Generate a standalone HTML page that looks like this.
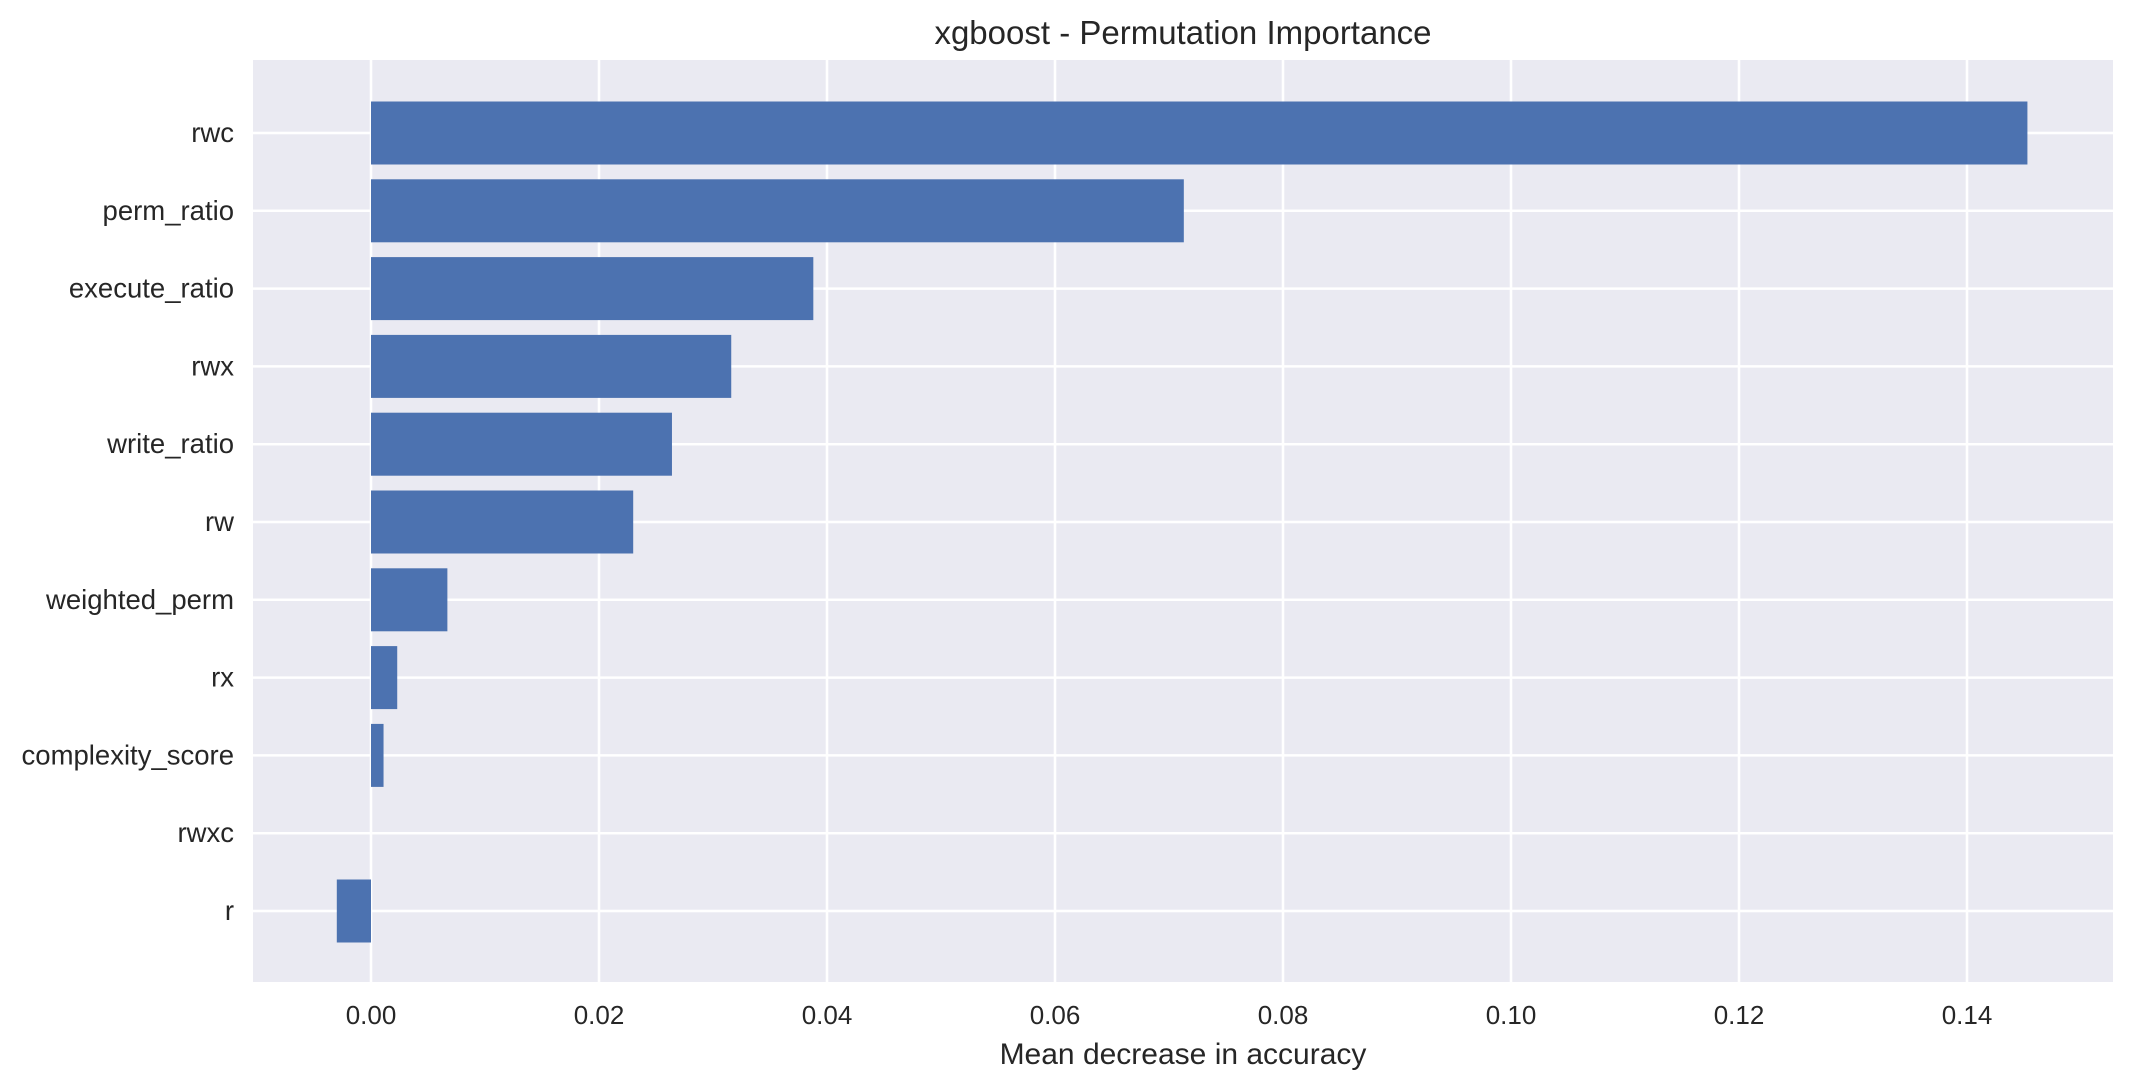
<!DOCTYPE html>
<html><head><meta charset="utf-8"><style>
html,body{margin:0;padding:0;background:#fff;}
svg{display:block;font-family:"Liberation Sans",Arial,sans-serif;}
</style></head><body>
<svg id="chart" width="2133" height="1091" viewBox="0 0 2133 1091" xmlns="http://www.w3.org/2000/svg">
<rect x="253" y="60" width="1860" height="922" fill="#eaeaf2"/>
<g id="grid"></g>
<g id="bars"></g>
<g id="yticks"></g>
<g id="xticks"></g>
<text x="1183" y="44" font-size="33" text-anchor="middle" fill="#262626">xgboost - Permutation Importance</text>
<text x="1183" y="1064" font-size="30" text-anchor="middle" fill="#262626">Mean decrease in accuracy</text>
</svg>
<script>
const features = ["rwc","perm_ratio","execute_ratio","rwx","write_ratio","rw","weighted_perm","rx","complexity_score","rwxc","r"];
const importances = [0.1453,0.0713,0.0388,0.0316,0.0264,0.0230,0.0067,0.0023,0.0011,0.0,-0.0030];
const xTicks = [0,0.02,0.04,0.06,0.08,0.10,0.12,0.14];
const xTickLabels = ["0.00","0.02","0.04","0.06","0.08","0.10","0.12","0.14"];

const NS = "http://www.w3.org/2000/svg";
const plotL = 253, plotR = 2113, plotT = 60, plotB = 982;
const x0px = 371, pxPerUnit = 11400;
function xs(v){ return x0px + v * pxPerUnit; }
const y0 = 133, step = 77.8, barH = 63;
function ys(i){ return y0 + i * step; }
function mk(tag, attrs, parent){
  const e = document.createElementNS(NS, tag);
  for (const k in attrs) e.setAttribute(k, attrs[k]);
  parent.appendChild(e);
  return e;
}
const grid = document.getElementById('grid');
const bars = document.getElementById('bars');
const yt = document.getElementById('yticks');
const xt = document.getElementById('xticks');

xTicks.forEach((v, i) => {
  const l = mk('line', {x1: xs(v), x2: xs(v), y1: plotT, y2: plotB, stroke: '#fff', 'stroke-width': 2.5}, grid);
  
  
  const t = mk('text', {x: xs(v), y: 1024, 'font-size': 26, 'text-anchor': 'middle', fill: '#262626'}, xt);
  t.textContent = xTickLabels[i];
  
  
});
features.forEach((f, i) => {
  const l = mk('line', {x1: plotL, x2: plotR, y1: ys(i), y2: ys(i), stroke: '#fff', 'stroke-width': 2.5}, grid);
  
  
  const v = importances[i];
  const a = xs(Math.min(0, v)), b = xs(Math.max(0, v));
  const r = mk('rect', {x: a, y: ys(i) - barH / 2, width: Math.max(0, b - a), height: barH, fill: '#4c72b0'}, bars);
  
  
  const t = mk('text', {x: 234, y: ys(i) + 9, 'font-size': 27.5, 'text-anchor': 'end', fill: '#262626'}, yt);
  t.textContent = f;
  
  
});
</script>
</body></html>
